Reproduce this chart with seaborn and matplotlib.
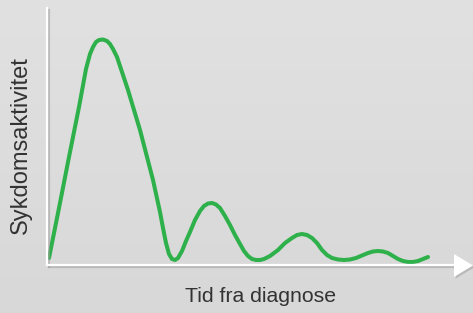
import numpy as np
import pandas as pd
import matplotlib
matplotlib.use("Agg")
import matplotlib.pyplot as plt
import matplotlib.patheffects as pe
from matplotlib.patches import Polygon
from matplotlib.colors import LinearSegmentedColormap
import seaborn as sns

# Curve (time since diagnosis, disease activity; arbitrary units)
time = [2, 12, 22, 32, 39, 43, 46, 49, 52, 56, 60, 63, 66, 70,
        81, 93, 106, 113, 116, 119, 122, 125, 128, 131, 135, 139, 143,
        148, 153, 157, 161, 165, 169, 173, 178, 183, 188, 193, 197, 201, 205, 209, 213, 217,
        223, 231, 238, 245, 250, 255, 260, 265, 270, 275, 280, 285, 291, 297, 303, 309,
        315, 321, 326, 331, 336, 341, 346, 351, 356, 361, 366, 371, 376, 381]
activity = [7, 57, 108, 158, 196, 211, 218, 223, 225, 225.5, 224, 221, 216, 208,
            175, 135, 85, 53, 37, 22, 11, 6, 5, 7, 14, 24, 33,
            45, 54, 59, 61.5, 62, 60.5, 57, 49, 40, 30, 21, 14, 9, 6, 5, 5, 6,
            9, 15, 22, 27, 30, 31, 30, 27, 22, 15, 10, 7, 5.5, 5, 5.5, 7,
            9.5, 12, 13.5, 14, 13.5, 12, 9, 6, 4, 3, 3, 4, 6, 8]
x_label = "Tid fra diagnose"
y_label = "Sykdomsaktivitet"

df = pd.DataFrame({"time": time, "activity": activity})

sns.set_style("white")
plt.rcParams["font.family"] = ["Liberation Sans", "DejaVu Sans"]

W, H = 473, 313
fig = plt.figure(figsize=(W / 100, H / 100), dpi=100)

# background gradient
bg = fig.add_axes([0, 0, 1, 1], zorder=-10)
grad = np.linspace(0, 1, 256).reshape(-1, 1)
cmap = LinearSegmentedColormap.from_list("bg", ["#e1e1e1", "#d8d8d8"])
bg.imshow(grad, aspect="auto", cmap=cmap, extent=[0, 1, 0, 1], origin="upper")
bg.set_axis_off()

left, right, bottom_px, top_px = 47, 455, 265, 8
ax = fig.add_axes([left / W, 1 - bottom_px / H, (right - left) / W, (bottom_px - top_px) / H])
ax.patch.set_alpha(0)

sns.lineplot(data=df, x="time", y="activity", ax=ax, color="#2eb04b", linewidth=2.9,
             solid_capstyle="round", solid_joinstyle="round", sort=False)
ax.set_xlim(0, right - left)
ax.set_ylim(0, bottom_px - top_px)
ax.set_xticks([])
ax.set_yticks([])
ax.set_xlabel("")
ax.set_ylabel("")
for s in ["top", "right"]:
    ax.spines[s].set_visible(False)
shadow = [pe.SimpleLineShadow(offset=(1.2, -1.2), shadow_color="#9a9a9a", alpha=0.5), pe.Normal()]
for s in ["left", "bottom"]:
    ax.spines[s].set_color("white")
    ax.spines[s].set_linewidth(1.6)
    ax.spines[s].set_path_effects(shadow)

# arrow head at the end of the time axis
yc = 1 - 265.5 / H
tri = Polygon([(454 / W, yc + 11.5 / H), (454 / W, yc - 11.5 / H), (473 / W, yc)],
              closed=True, transform=fig.transFigure, facecolor="white", edgecolor="none",
              path_effects=[pe.SimplePatchShadow(offset=(1.2, -1.2), shadow_rgbFace="#9a9a9a", alpha=0.5),
                            pe.Normal()])
fig.patches.append(tri)

fig.text(261 / W, 1 - 296 / H, x_label, ha="center", va="center", fontsize=15.3, color="#333333")
fig.text(21 / W, 1 - 145 / H, y_label, ha="center", va="center", rotation=90, fontsize=17,
         color="#333333")

fig.savefig("out.png", dpi=100)
